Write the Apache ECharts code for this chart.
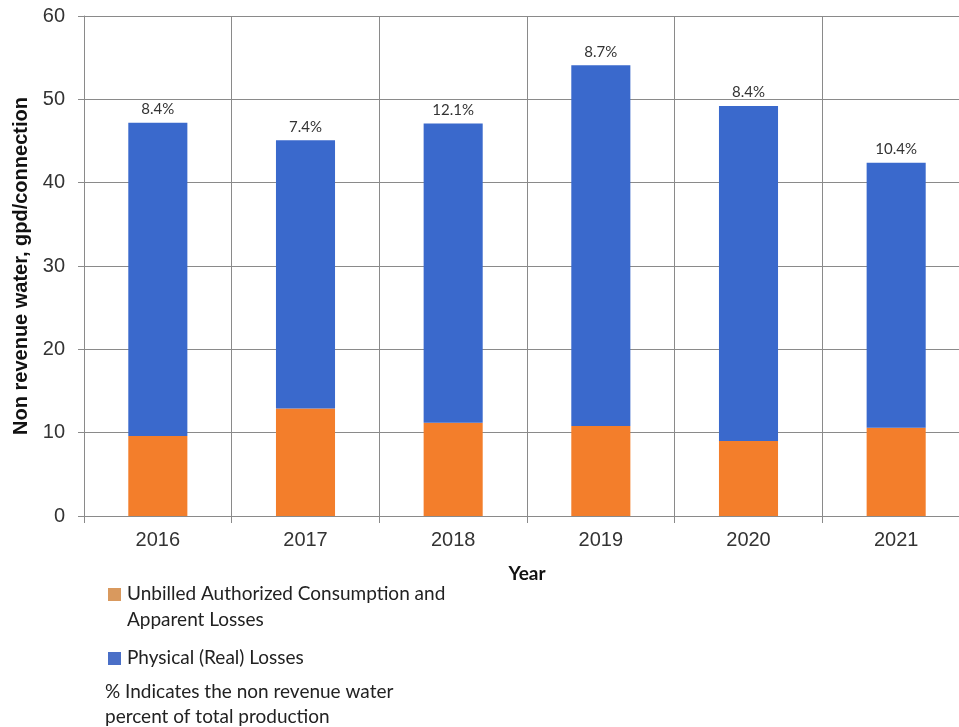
<!DOCTYPE html>
<html>
<head>
<meta charset="utf-8">
<script src="https://cdn.jsdelivr.net/npm/echarts@6/dist/echarts.min.js"></script>
<style>
  html, body { margin: 0; padding: 0; background: #fff; overflow: hidden; }
  /* the plot runs slightly past the right edge of the window */
  #chart { width: 970px; height: 727px; }
</style>
</head>
<body>
<div id="chart"></div>
<script>
// Non revenue water per connection, by year
const years = ['2016', '2017', '2018', '2019', '2020', '2021'];
const unbilledApparent = [9.6, 12.9, 11.2, 10.8, 9.0, 10.6];
const physicalLosses = [37.6, 32.2, 35.9, 43.3, 40.2, 31.8];
const nrwPercent = ['8.4%', '7.4%', '12.1%', '8.7%', '8.4%', '10.4%'];
const yTicks = [0, 10, 20, 30, 40, 50, 60];

const ORANGE = '#F37E2B';
const BLUE = '#3A69CC';
const LEG_ORANGE = '#D9995E';
const LEG_BLUE = '#4A6FC7';
const axisFont = '"Liberation Sans", Arial, sans-serif';
const textFont = 'Lato, "Open Sans", sans-serif';

const chart = echarts.init(document.getElementById('chart'));
chart.setOption({
  animation: false,
  backgroundColor: '#ffffff',
  grid: { left: 84, right: 0, top: 16, bottom: 211, containLabel: false },
  xAxis: {
    type: 'category',
    data: years,
    name: 'Year',
    nameLocation: 'middle',
    nameGap: 48,
    nameTextStyle: { fontFamily: textFont, fontWeight: 'bold', fontSize: 19, color: '#111' },
    axisLine: { show: true, lineStyle: { color: '#8a8a8a', width: 1 } },
    axisTick: { show: true, length: 7, lineStyle: { color: '#8a8a8a' } },
    axisLabel: { fontFamily: axisFont, fontSize: 20, color: '#333', margin: 14 },
    splitLine: { show: true, lineStyle: { color: '#8a8a8a', width: 1 } }
  },
  yAxis: {
    type: 'value',
    min: yTicks[0],
    max: yTicks[yTicks.length - 1],
    interval: 10,
    name: 'Non revenue water, gpd/connection',
    nameLocation: 'middle',
    nameGap: 51,
    nameTextStyle: { fontFamily: axisFont, fontWeight: 'bold', fontSize: 20, color: '#111' },
    axisLine: { show: true, lineStyle: { color: '#8a8a8a', width: 1 } },
    axisTick: { show: true, length: 6, lineStyle: { color: '#8a8a8a' } },
    axisLabel: { fontFamily: axisFont, fontSize: 20, color: '#333', margin: 19 },
    splitLine: { show: true, lineStyle: { color: '#8a8a8a', width: 1 } }
  },
  series: [
    {
      name: 'Unbilled Authorized Consumption and Apparent Losses',
      type: 'bar',
      stack: 'nrw',
      barWidth: '40%',
      data: unbilledApparent,
      itemStyle: { color: ORANGE }
    },
    {
      name: 'Physical (Real) Losses',
      type: 'bar',
      stack: 'nrw',
      barWidth: '40%',
      data: physicalLosses,
      itemStyle: { color: BLUE },
      label: {
        show: true,
        position: 'top',
        distance: 6,
        fontFamily: textFont,
        fontSize: 15,
        color: '#333',
        formatter: p => nrwPercent[p.dataIndex]
      }
    }
  ],
  graphic: [
    { type: 'rect', x: 108, y: 588, shape: { width: 13, height: 13 }, style: { fill: LEG_ORANGE } },
    { type: 'text', x: 127, y: 594, style: { text: 'Unbilled Authorized Consumption and', font: '19px ' + textFont, fill: '#222', verticalAlign: 'middle' } },
    { type: 'text', x: 127, y: 620, style: { text: 'Apparent Losses', font: '19px ' + textFont, fill: '#222', verticalAlign: 'middle' } },
    { type: 'rect', x: 108, y: 652, shape: { width: 13, height: 13 }, style: { fill: LEG_BLUE } },
    { type: 'text', x: 127, y: 658, style: { text: 'Physical (Real) Losses', font: '19px ' + textFont, fill: '#222', verticalAlign: 'middle' } },
    { type: 'text', x: 105, y: 692, style: { text: '% Indicates the non revenue water', font: '19px ' + textFont, fill: '#222', verticalAlign: 'middle' } },
    { type: 'text', x: 105, y: 717, style: { text: 'percent of total production', font: '19px ' + textFont, fill: '#222', verticalAlign: 'middle' } }
  ]
});
</script>
</body>
</html>
